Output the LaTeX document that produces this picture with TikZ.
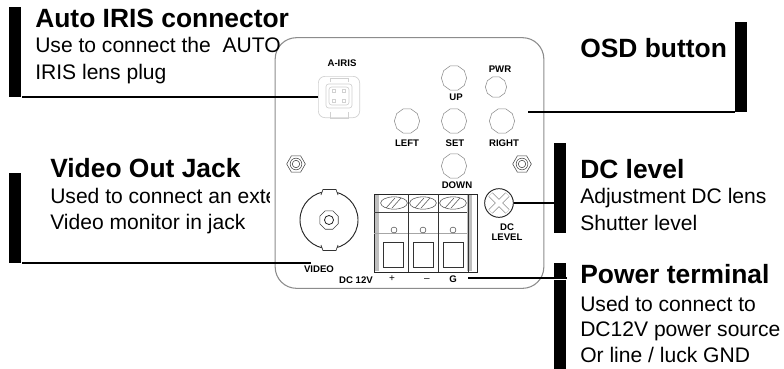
\documentclass[tikz,border=0pt]{standalone}
\usepackage{fontspec}
\setmainfont{Liberation Sans}
\usetikzlibrary{shapes.geometric, positioning, calc}

\begin{document}
\begin{tikzpicture}[
    x=0.75pt, y=-0.75pt,
    bar/.style={rectangle, fill=black, inner sep=0pt, minimum width=9pt, anchor=north west},
    leader/.style={draw=black, line width=0.9pt},
    headline/.style={anchor=base west, inner sep=0pt, font=\fontsize{19.8}{24}\selectfont\bfseries},
    bodyline/.style={anchor=base west, inner sep=0pt, font=\fontsize{15.8}{19}\selectfont},
    tag/.style={inner sep=0pt, font=\fontsize{7.2}{9}\selectfont\bfseries},
    button/.style={regular polygon, regular polygon sides=10, draw=black!45, line width=0.4pt, inner sep=0pt, minimum size=19pt},
    screw/.style={regular polygon, regular polygon sides=6, draw=black!75, line width=0.4pt, inner sep=0pt, minimum size=14pt},
    faint/.style={draw=black!18, line width=0.5pt}
]
\useasboundingbox (0,0) rectangle (784,368);

% Text that runs under the panel
\node[headline] (videotitle) at (50,177) {Video Out Jack};
\node[bodyline] (videoone) at (50,203) {Used to connect an exte};
\node[bodyline] (videotwo) at (50,229) {Video monitor in jack};

% Panel
\fill[white] (270,150) rectangle (300,280);
\node[rectangle, rounded corners=16pt, draw=black!45, fill=white, line width=0.8pt, minimum width=201.5pt, minimum height=188pt, inner sep=0pt] (panel) at (409.5,163) {};

% Left texts
\node[headline] (iristitle) at (35,27) {Auto IRIS connector};
\node[bodyline] (irisone) at (35,52) {Use to connect the\ \ AUTO};
\node[bodyline] (iristwo) at (35,79) {IRIS lens plug};

% Right texts
\node[headline] (osdtitle) at (580,57) {OSD button};
\node[headline] (dctitle) at (580,178) {DC level};
\node[bodyline] (dcone) at (580,203) {Adjustment DC lens};
\node[bodyline] (dctwo) at (580,230) {Shutter level};
\node[headline] (powertitle) at (580,283) {Power terminal};
\node[bodyline] (powerone) at (580,311) {Used to connect to};
\node[bodyline] (powertwo) at (580,336) {DC12V power source};
\node[bodyline] (powerthree) at (580,362) {Or line / luck GND};

% Black bars
\node[bar, minimum height=67.5pt] (irisbar) at (9,7) {};
\node[bar, minimum height=67.5pt] (videobar) at (9,173) {};
\node[bar, minimum height=67.5pt] (osdbar) at (735,22) {};
\node[bar, minimum height=67pt] (dcbar) at (554,143) {};
\node[bar, minimum height=79pt] (powerbar) at (554,263) {};

% Buttons
\foreach \name/\px/\py in {up/454/78, left/407/121, set/454/121, right/502/121, down/454/166}
    \node[button] (\name) at (\px,\py) {};
\node[button, minimum size=16pt] (pwr) at (496,87) {};

% Button labels
\node[tag] (pwrtag) at (500,69) {PWR};
\node[tag] (uptag) at (456,97) {UP};
\node[tag] (lefttag) at (407,143) {LEFT};
\node[tag] (settag) at (455,143) {SET};
\node[tag] (righttag) at (504,143) {RIGHT};
\node[tag] (downtag) at (457,185) {DOWN};

% Mounting screws
\foreach \name/\px in {screwl/296, screwr/522} {
    \node[screw] (\name) at (\px,164) {};
    \draw[black!75, line width=0.4pt] (\name) circle (2.8pt);
    \draw[black!75, line width=0.4pt] (\name) circle (4.4pt);
}

% Iris socket
\node[tag] (iristag) at (342,63) {A-IRIS};
\node[rectangle, rounded corners=5pt, faint, minimum width=31pt, minimum height=31pt, inner sep=0pt] (iris) at (339,97) {};
\draw[faint] (330,82) -- (330,78) -- (348,78) -- (348,82);
\draw[faint] (330,112) -- (330,118) -- (348,118) -- (348,112);
\draw[faint, rounded corners=2pt] (326,84) rectangle (352,108);
\draw[faint, rounded corners=2pt] (329,87) rectangle (349,105);
\foreach \px in {334,344}
    \foreach \py in {91,101}
        \draw[faint] (\px-1.5,\py-1.5) rectangle (\px+1.5,\py+1.5);

% BNC jack
\node[ellipse, draw=black!85, fill=white, line width=0.7pt, minimum width=43.5pt, minimum height=43pt, inner sep=0pt] (bnc) at (329,220) {};
\draw[black!80, fill=white, line width=0.5pt] (321,195) -- (323,189.5) -- (336,189.5) -- (338,195);
\draw[black!80, fill=white, line width=0.5pt] (321,245) -- (323,250.5) -- (336,250.5) -- (338,245);
\node[regular polygon, regular polygon sides=8, draw=black!75, line width=0.4pt, inner sep=0pt, minimum size=15pt] (bncnut) at (329,220) {};
\node[circle, draw=black!85, line width=0.6pt, minimum size=6.8pt, inner sep=0pt] (bncpin) at (329,220) {};
\node[tag] (videotag) at (319,269) {VIDEO};

% Terminal block
\node[rectangle, draw=black!85, line width=0.7pt, anchor=north west, minimum width=77pt, minimum height=58.5pt, inner sep=0pt] (block) at (374,194) {};
\fill[black!25] (375,195) rectangle (379,271);
\fill[black!25] (467,195) rectangle (472,271);
\draw[black!75, line width=0.5pt] (374,212) -- (467,212);
\draw[black!35, line width=0.7pt] (374,233) -- (467,233);
\foreach \px in {408,438,468}
    \draw[black!80, line width=0.5pt] (\px,194) -- (\px,272);
\foreach \px/\qx in {394/393, 423/423, 453/453} {
    \draw[black!70, line width=0.4pt] (\px,203) ellipse (10pt and 4.6pt);
    \draw[black!70, line width=0.4pt] (\px-8,208) -- (\px+1,198) (\px-2,208) -- (\px+7,198);
    \draw[black!70, line width=0.4pt] (\px,230) circle (2.2pt);
    \draw[black!80, line width=0.5pt] (\qx-10,242) rectangle (\qx+10,267);
}

% DC level trimmer
\node[circle, draw=black!85, fill=white, line width=0.7pt, minimum size=21.5pt, inner sep=0pt] (trim) at (499,203) {};
\draw[black!60, line width=4pt] (trim.north west) ++(2,2) -- ($(trim.south east)+(-2,-2)$);
\draw[black!60, line width=4pt] (trim.north east) ++(-2,2) -- ($(trim.south west)+(2,-2)$);
\draw[white, line width=3.2pt] (trim.north west) ++(2,2) -- ($(trim.south east)+(-2,-2)$);
\draw[white, line width=3.2pt] (trim.north east) ++(-2,2) -- ($(trim.south west)+(2,-2)$);
\node[tag] (dctag) at (507,227) {DC};
\node[tag] (leveltag) at (507,237) {LEVEL};

% Terminal labels
\node[tag] (supplytag) at (356,280) {DC 12V};
\node[inner sep=0pt, font=\fontsize{7.5}{9}\selectfont] (plustag) at (392,279) {+};
\node[inner sep=0pt, font=\fontsize{7.5}{9}\selectfont] (minustag) at (427,280) {--};
\node[tag] (groundtag) at (453,279) {G};

% Leader ends
\coordinate (osdend) at (528,112);
\coordinate (videoend) at (311,263);
\coordinate (powerend) at (468,278);

% Leader lines
\draw[leader] (iris.west) -- (iris.west -| irisbar.east);
\draw[leader] (videoend) -- (videoend -| videobar.east);
\draw[leader] (osdend) -- (osdend -| osdbar.west);
\draw[leader] (trim.east) -- (trim.east -| dcbar.west);
\draw[white, line width=0.8pt] ($(powerend -| powerbar.west)+(0,1.6)$) -- ($(powerend -| powerbar.east)+(0,1.6)$);
\draw[leader] (powerend) -- (powerend -| powerbar.east);

\end{tikzpicture}
\end{document}
